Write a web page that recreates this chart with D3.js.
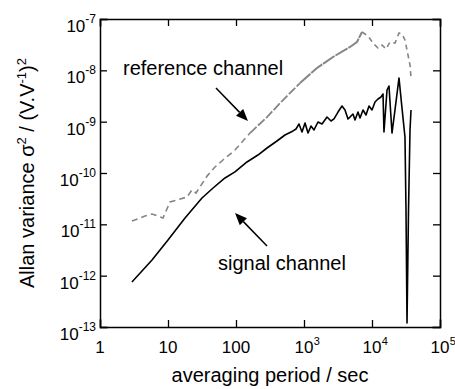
<!DOCTYPE html>
<html>
<head>
<meta charset="utf-8">
<script src="https://cdn.jsdelivr.net/npm/d3@7"></script>
<style>
  html, body { margin: 0; padding: 0; background: #fff; }
  svg { display: block; }
  text { font-family: Arial, "Liberation Sans", sans-serif; fill: #000; }
</style>
</head>
<body>
<svg id="chart" width="455" height="389"></svg>
<script>
// ---- data (tau in s, Allan variance) ----
const xTicks = [1, 10, 100, 1e3, 1e4, 1e5];
const xTickLabels = [["1", ""], ["10", ""], ["100", ""], ["10", "3"], ["10", "4"], ["10", "5"]];
const yTicks = [1e-13, 1e-12, 1e-11, 1e-10, 1e-9, 1e-8, 1e-7];
const yTickLabels = [["10", "-13"], ["10", "-12"], ["10", "-11"], ["10", "-10"], ["10", "-9"], ["10", "-8"], ["10", "-7"]];

const signalChannel = [
  [2.95, 7.5e-13], [5.82, 2.02e-12], [10, 4.95e-12], [17.8, 1.33e-11], [31.6, 3.26e-11],
  [46, 5.1e-11], [68.9, 8.0e-11], [96.6, 1.05e-10], [145, 1.64e-10], [210, 2.24e-10],
  [286, 3.07e-10], [400, 4.2e-10], [525, 5.5e-10], [690, 6.6e-10], [763, 7.2e-10],
  [844, 9.0e-10], [935, 6.3e-10], [1035, 9.4e-10], [1145, 6.0e-10], [1268, 8.2e-10],
  [1403, 6.9e-10], [1607, 9.85e-10], [1841, 9.0e-10], [2180, 1.23e-9], [2496, 1.03e-9],
  [2762, 1.13e-9], [3162, 1.54e-9], [3622, 2.02e-9], [4009, 1.69e-9], [4436, 1.13e-9],
  [4746, 1.23e-9], [5255, 1.41e-9], [5623, 1.08e-9], [6223, 1.54e-9], [6663, 1.18e-9],
  [7380, 1.69e-9], [8166, 1.35e-9], [9036, 2.02e-9], [10000, 1.69e-9], [11070, 2.42e-9],
  [12250, 2.76e-9], [13560, 3.02e-9], [14520, 3.46e-9], [15000, 6.3e-10], [16630, 4.14e-9],
  [17780, 4.95e-9], [19680, 6.0e-10], [21780, 1.69e-9], [24950, 7.1e-9], [27600, 1.85e-9],
  [30550, 5.0e-10], [31620, 1.9e-11], [32730, 1.2e-13], [34430, 1.9e-11], [36220, 6.9e-10],
  [37480, 1.69e-9]
];

const referenceChannel = [
  [2.95, 1.16e-11], [4.59, 1.45e-11], [5.82, 1.59e-11], [8.44, 1.33e-11], [10.7, 2.72e-11],
  [13.6, 2.98e-11], [19.0, 3.4e-11], [22.5, 4.67e-11], [25.8, 4.07e-11], [37.5, 8.7e-11],
  [49.1, 1.31e-10], [64.4, 1.79e-10], [96.6, 2.8e-10], [160.7, 6.0e-10], [286, 1.23e-9],
  [491, 2.64e-9], [874, 5.66e-9], [1554, 1.11e-8], [2669, 1.82e-8], [4746, 2.85e-8],
  [6012, 3.56e-8], [7128, 5.58e-8], [8730, 4.67e-8], [10350, 3.4e-8], [12250, 2.72e-8],
  [14030, 3.11e-8], [16070, 2.6e-8], [18400, 3.56e-8], [21780, 3.4e-8], [24950, 5.33e-8],
  [27600, 5.1e-8], [30550, 3.9e-8], [33840, 1.99e-8], [36220, 1.27e-8], [37480, 7.1e-9]
];

// annotations in data coordinates
const annotations = [
  { text: "reference channel", at: [2.18, 8.1e-9], from: [50.8, 4.53e-9], to: [150, 1.03e-9] },
  { text: "signal channel", at: [54.4, 1.29e-12], from: [286, 3.78e-12], to: [96.7, 1.66e-11] }
];

// ---- layout ----
const margin = { left: 100, right: 15, top: 19, bottom: 62 };
const W = 455, H = 389;
const svg = d3.select("#chart");

const x = d3.scaleLog().domain([1, 1e5]).range([margin.left, W - margin.right]);
const y = d3.scaleLog().domain([1e-13, 1e-7]).range([H - margin.bottom, margin.top]);

const x0 = x.range()[0], x1 = x.range()[1];
const y0 = y.range()[0], y1 = y.range()[1];
const tickLen = 7;

// curves
const line = d3.line().x(d => x(d[0])).y(d => y(d[1]));

// reference curve: sparse dashes at both ends, dense (noisy-looking) in the middle
const refSegments = [
  { lo: 0, hi: 160.7, dash: "6,4", w: 1.6 },
  { lo: 160.7, hi: 874, dash: "9,2", w: 1.8 },
  { lo: 874, hi: 7128, dash: "14,1", w: 2.0 },
  { lo: 7128, hi: 1e6, dash: "5,4", w: 1.6 }
];
refSegments.forEach(s => {
  svg.append("path")
    .datum(referenceChannel.filter(d => d[0] >= s.lo && d[0] <= s.hi))
    .attr("d", line)
    .attr("fill", "none")
    .attr("stroke", "#858585")
    .attr("stroke-width", s.w)
    .attr("stroke-dasharray", s.dash);
});

svg.append("path")
  .datum(signalChannel)
  .attr("d", line)
  .attr("fill", "none")
  .attr("stroke", "#000")
  .attr("stroke-width", 1.6)
  .attr("stroke-linejoin", "round");

// axes with inward ticks on all four sides
const axB = d3.axisBottom(x).tickValues(xTicks).tickSize(-tickLen).tickFormat("");
const axT = d3.axisTop(x).tickValues(xTicks).tickSize(-tickLen).tickFormat("");
const axL = d3.axisLeft(y).tickValues(yTicks).tickSize(-tickLen).tickFormat("");
const axR = d3.axisRight(y).tickValues(yTicks).tickSize(-tickLen).tickFormat("");

function styleAxis(g) {
  g.selectAll("path.domain").attr("stroke", "#000").attr("stroke-width", 1.5);
  g.selectAll(".tick line").attr("stroke", "#000").attr("stroke-width", 1.3);
}
svg.append("g").attr("transform", `translate(0,${y0})`).call(axB).call(styleAxis);
svg.append("g").attr("transform", `translate(0,${y1})`).call(axT).call(styleAxis);
svg.append("g").attr("transform", `translate(${x0},0)`).call(axL).call(styleAxis);
svg.append("g").attr("transform", `translate(${x1},0)`).call(axR).call(styleAxis);
svg.selectAll("path.domain").attr("stroke-linecap", "square");

// x tick labels: base centered on tick, superscript hanging to the right
xTicks.forEach((t, i) => {
  const [base, sup] = xTickLabels[i];
  const g = svg.append("g").attr("transform", `translate(${x(t)},${y0 + 26})`);
  g.append("text").attr("text-anchor", "middle").attr("font-size", 17).text(base);
  if (sup) {
    const bw = base.length * 17 * 0.556;
    g.append("text").attr("x", bw / 2 + 0.3).attr("y", -8).attr("font-size", 11).text(sup);
  }
});

// y tick labels
yTicks.forEach((t, i) => {
  const [base, sup] = yTickLabels[i];
  const g = svg.append("g").attr("transform", `translate(${x0 - 4},${y(t)})`);
  const supT = g.append("text").attr("text-anchor", "end").attr("y", 4).attr("font-size", 12).text(sup);
  const sw = supT.node().getComputedTextLength();
  g.append("text").attr("text-anchor", "end").attr("x", -sw).attr("y", 13).attr("font-size", 17).text(base);
});

// axis titles
svg.append("text")
  .attr("x", (x0 + x1) / 2).attr("y", 382)
  .attr("text-anchor", "middle").attr("font-size", 20)
  .text("averaging period / sec");

const yl = svg.append("text")
  .attr("transform", `translate(34,${(y0 + y1) / 2}) rotate(-90)`)
  .attr("text-anchor", "middle").attr("font-size", 20);
yl.append("tspan").text("Allan variance σ");
yl.append("tspan").attr("font-size", 13).attr("dy", -8).text("2");
yl.append("tspan").attr("dy", 8).text(" / (V.V");
yl.append("tspan").attr("font-size", 13).attr("dy", -8).text("-1");
yl.append("tspan").attr("dy", 8).text(")");
yl.append("tspan").attr("font-size", 13).attr("dy", -8).text("2");

// annotations with arrows
annotations.forEach(a => {
  svg.append("text")
    .attr("x", x(a.at[0])).attr("y", y(a.at[1]))
    .attr("font-size", 20).text(a.text);
  const fx = x(a.from[0]), fy = y(a.from[1]);
  const tx = x(a.to[0]), ty = y(a.to[1]);
  const ang = Math.atan2(ty - fy, tx - fx);
  const hl = 12, hw = 5;
  const bx = tx - hl * Math.cos(ang), by = ty - hl * Math.sin(ang);
  svg.append("line")
    .attr("x1", fx).attr("y1", fy).attr("x2", bx).attr("y2", by)
    .attr("stroke", "#000").attr("stroke-width", 1.5);
  const px = -Math.sin(ang) * hw, py = Math.cos(ang) * hw;
  svg.append("path")
    .attr("d", `M${tx},${ty}L${bx + px},${by + py}L${bx - px},${by - py}Z`)
    .attr("fill", "#000");
});
</script>
</body>
</html>
